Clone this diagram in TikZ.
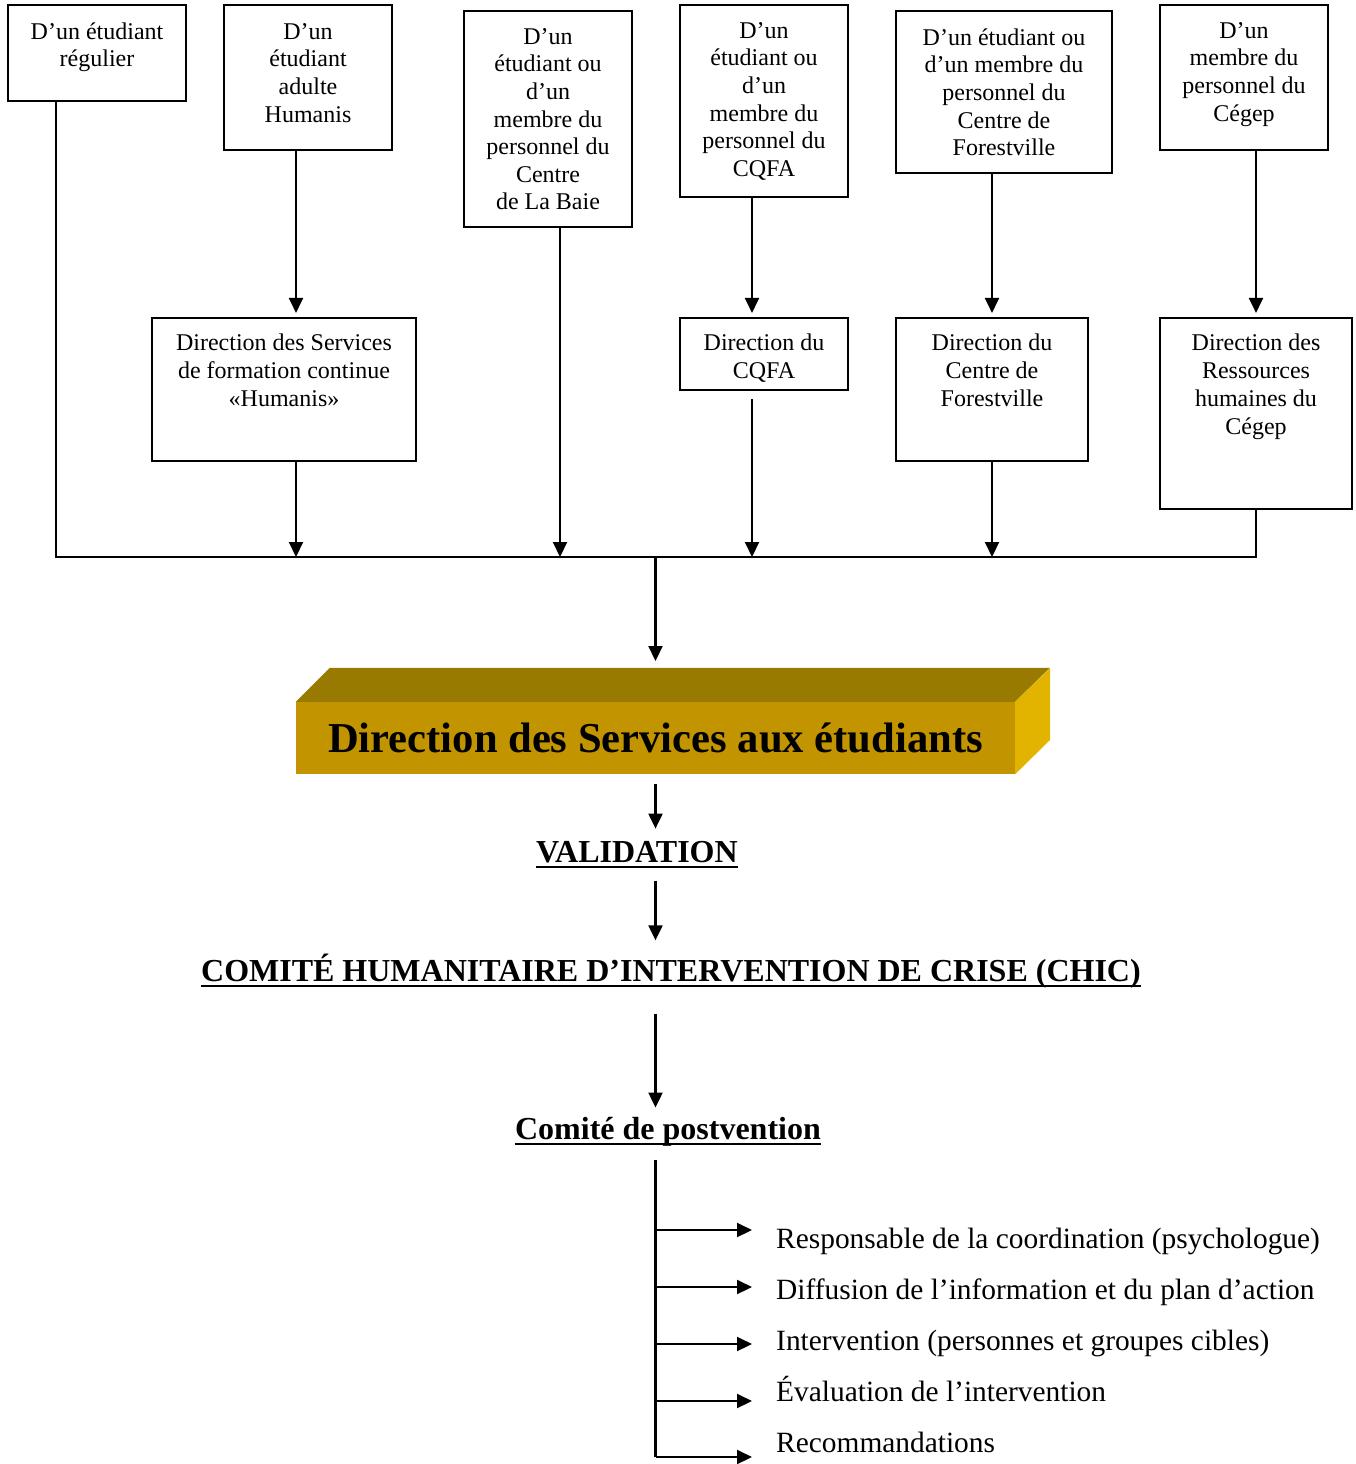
\documentclass[tikz,border=0pt]{standalone}
\usepackage{fontspec}
\setmainfont{Liberation Serif}
\usetikzlibrary{arrows.meta}
\definecolor{topc}{RGB}{153,122,0}
\definecolor{frontc}{RGB}{194,148,0}
\definecolor{rightc}{RGB}{226,180,0}
\begin{document}
\begin{tikzpicture}[x=1pt,y=-1pt,
  box/.style={draw, line width=2.1pt, inner sep=0pt},
  txt/.style={inner sep=0pt, align=center, anchor=north, font=\fontsize{24}{27.6}\selectfont},
  mtxt/.style={inner sep=0pt, align=center, anchor=north, font=\fontsize{24}{28}\selectfont},
  ln/.style={line width=2.1pt},
  arr/.style={line width=2.1pt, -{Triangle[length=15pt,width=14pt]}},
  head/.style={inner sep=0pt, anchor=base, font=\fontsize{32}{36}\selectfont\bfseries},
  uline/.style={line width=2.8pt},
  item/.style={inner sep=0pt, anchor=base west, font=\fontsize{29.4}{34}\selectfont}]
\useasboundingbox (0,0) rectangle (1355,1464);

% top row boxes
\node[box, minimum width=178pt, minimum height=96pt]  (B1) at (97,53) {};
\node[box, minimum width=168pt, minimum height=145pt] (B2) at (308,77.5) {};
\node[box, minimum width=168pt, minimum height=216pt] (B3) at (548,119) {};
\node[box, minimum width=168pt, minimum height=192pt] (B4) at (764,101) {};
\node[box, minimum width=216pt, minimum height=162pt] (B5) at (1004,92) {};
\node[box, minimum width=168pt, minimum height=145pt] (B6) at (1244,77.5) {};

\node[txt] (B1t) at (97,19.68) {\strut D’un étudiant\\régulier};
\node[txt] (B2t) at (308,19.68) {\strut D’un\\étudiant\\adulte\\Humanis};
\node[txt] (B3t) at (548,24.68) {\strut D’un\\étudiant ou\\d’un\\membre du\\personnel du\\Centre\\de La Baie};
\node[txt] (B4t) at (764,18.68) {\strut D’un\\étudiant ou\\d’un\\membre du\\personnel du\\CQFA};
\node[txt] (B5t) at (1004,25.68) {\strut D’un étudiant ou\\d’un membre du\\personnel du\\Centre de\\Forestville};
\node[txt] (B6t) at (1244,18.68) {\strut D’un\\membre du\\personnel du\\Cégep};

% middle row boxes
\node[box, minimum width=264pt, minimum height=143pt] (M2) at (284,389.5) {};
\node[box, minimum width=168pt, minimum height=72pt]  (M4) at (764,354) {};
\node[box, minimum width=192pt, minimum height=143pt] (M5) at (992,389.5) {};
\node[box, minimum width=192pt, minimum height=191pt] (M6) at (1256,413.5) {};

\node[mtxt] (M2t) at (284,330.4) {\strut Direction des Services\\de formation continue\\«Humanis»};
\node[mtxt] (M4t) at (764,330.4) {\strut Direction du\\CQFA};
\node[mtxt] (M5t) at (992,330.4) {\strut Direction du\\Centre de\\Forestville};
\node[mtxt] (M6t) at (1256,330.4) {\strut Direction des\\Ressources\\humaines du\\Cégep};

% bus coordinates
\coordinate (busL) at (56,557);
\coordinate (busR) at (1256,557);
\coordinate (busC) at (655.5,557);
\coordinate (x296) at (296,0);
\coordinate (x560) at (560,0);
\coordinate (x752) at (752,0);
\coordinate (x992) at (992,0);
\coordinate (x1256) at (1256,0);

% connectors top part
\draw[ln] (B1.south -| busL) -- (busL) -- (busR) -- (M6.south);
\draw[arr, shorten >=4pt] (B2.south -| x296) -- (M2.north -| x296);
\draw[arr] (M2.south -| x296) -- (x296 |- busL);
\draw[arr] (B3.south -| x560) -- (x560 |- busL);
\draw[arr, shorten >=4pt] (B4.south -| x752) -- (M4.north -| x752);
\draw[arr, shorten <=8pt] (M4.south -| x752) -- (x752 |- busL);
\draw[arr, shorten >=4pt] (B5.south -| x992) -- (M5.north -| x992);
\draw[arr] (M5.south -| x992) -- (x992 |- busL);
\draw[arr, shorten >=4pt] (B6.south -| x1256) -- (M6.north);

% 3D title block
\node[fill=frontc, minimum width=719pt, minimum height=72pt, inner sep=0pt,
      font=\fontsize{42.6}{50}\selectfont\bfseries] (T) at (655.5,738) {Direction des Services aux étudiants};
\fill[topc] (T.north west) -- ++(34,-34) -- ++(720,0) -- (T.north east) -- cycle;
\fill[rightc] (T.north east) -- ++(35,-34) -- ++(0,72) -- (T.south east) -- cycle;
\coordinate (Ttop) at (655.5,668);
\draw[arr, shorten >=7pt] (busC) -- (Ttop);

% headings
\node[head] (V) at (637,862) {VALIDATION};
\draw[uline] ([yshift=-5pt]V.base west) -- ([yshift=-5pt]V.base east);
\node[head] (C) at (671,981) {COMITÉ HUMANITAIRE D’INTERVENTION DE CRISE (CHIC)};
\draw[uline] ([yshift=-5pt]C.base west) -- ([yshift=-5pt]C.base east);
\node[head] (P) at (668,1139) {Comité de postvention};
\draw[uline] ([yshift=-5pt]P.base west) -- ([yshift=-5pt]P.base east);

\draw[arr, shorten <=10pt, shorten >=12pt] (T.south) -- (T.south |- V.north);
\draw[arr, shorten <=18pt, shorten >=13pt] (T.south |- V.south) -- (T.south |- C.north);
\draw[arr, shorten <=26pt, shorten >=9pt] (T.south |- C.south) -- (T.south |- P.north);

% list
\node[item] (L1) at (776,1248) {Responsable de la coordination (psychologue)};
\node[item] (L2) at (776,1299) {Diffusion de l’information et du plan d’action};
\node[item] (L3) at (776,1350) {Intervention (personnes et groupes cibles)};
\node[item] (L4) at (776,1401) {Évaluation de l’intervention};
\node[item] (L5) at (776,1452) {Recommandations};

\coordinate (r1) at (655.5,1230);
\coordinate (r2) at (655.5,1287);
\coordinate (r3) at (655.5,1344);
\coordinate (r4) at (655.5,1401);
\coordinate (r5) at (655.5,1457);
\draw[ln, shorten <=14pt] (T.south |- P.south) -- (r5);
\draw[arr, shorten >=24pt] (r1) -- (r1 -| L1.west);
\draw[arr, shorten >=24pt] (r2) -- (r2 -| L2.west);
\draw[arr, shorten >=24pt] (r3) -- (r3 -| L3.west);
\draw[arr, shorten >=24pt] (r4) -- (r4 -| L4.west);
\draw[arr, shorten >=24pt] (r5) -- (r5 -| L5.west);
\end{tikzpicture}
\end{document}
